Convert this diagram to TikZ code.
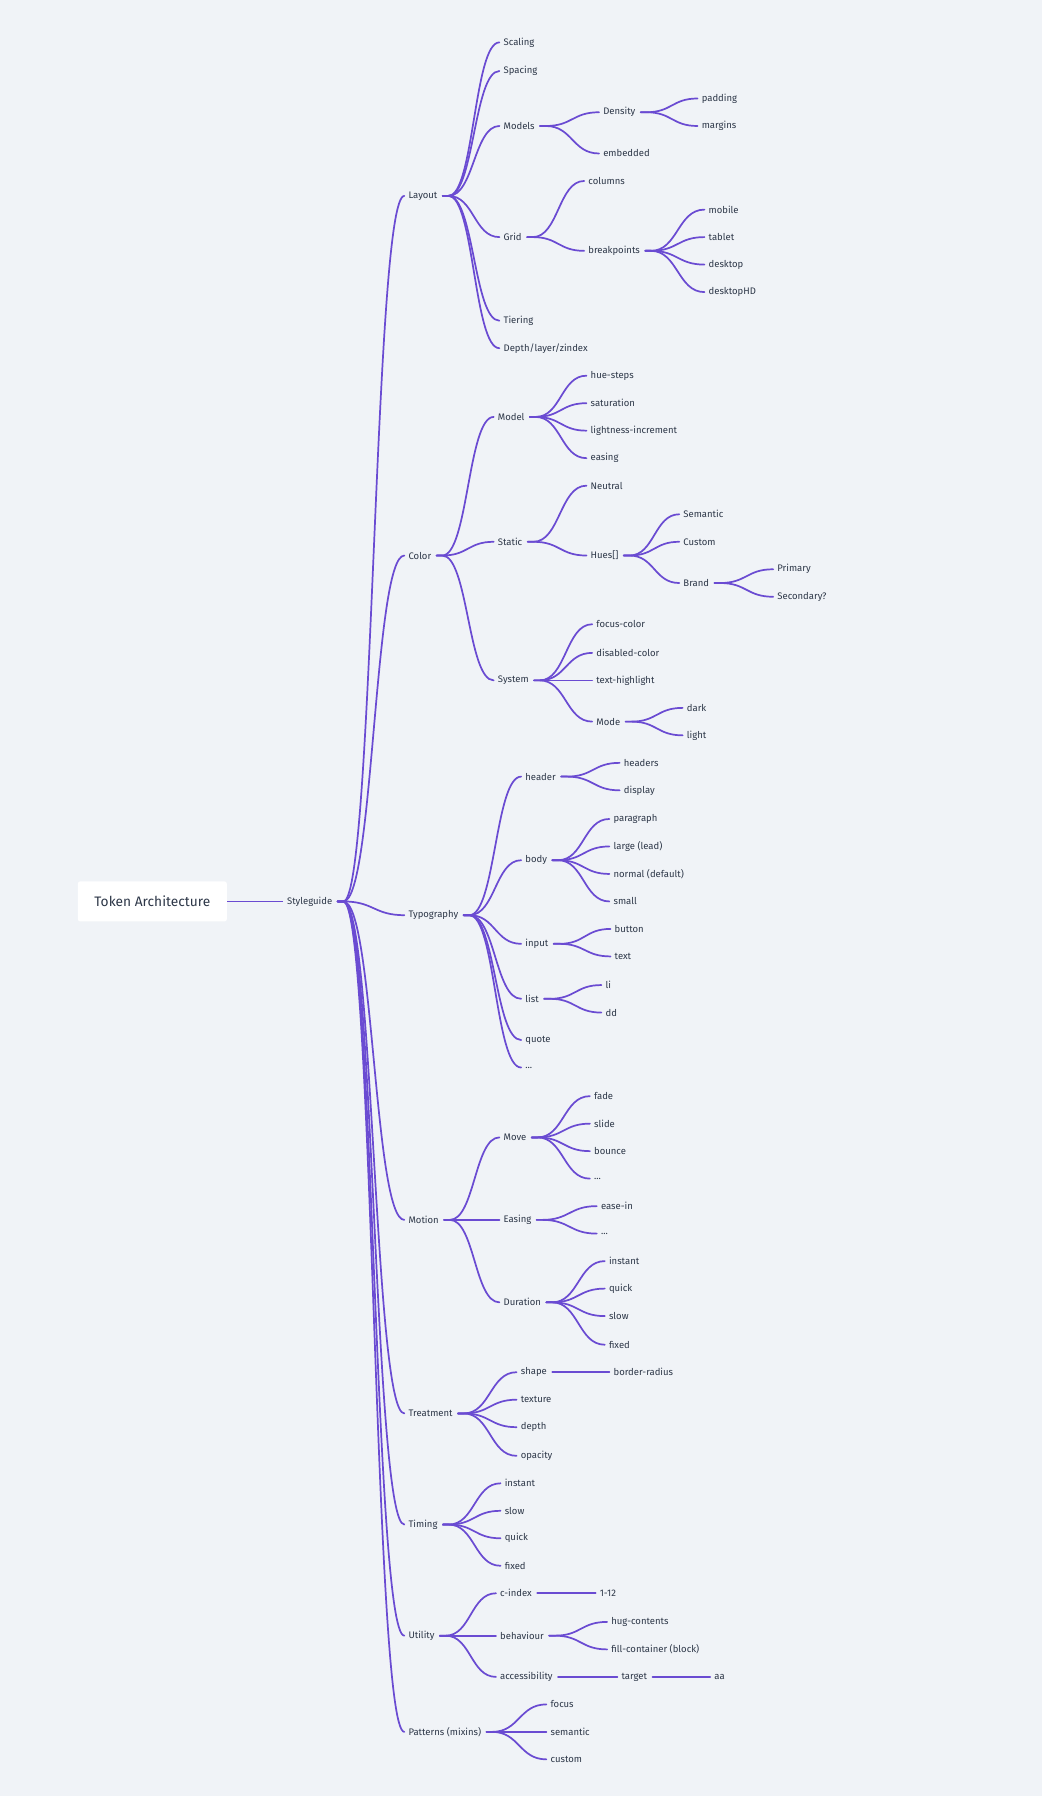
\documentclass[tikz,border=0pt]{standalone}
\usepackage{fontspec}
\setmainfont{Fira Sans}
\usetikzlibrary{calc}
\begin{document}
\begin{tikzpicture}[x=1pt,y=-1pt,
  lbl/.style={anchor=west,inner sep=1.5pt,font=\fontsize{8.3}{10}\selectfont,text=txt},
  edge/.style={line width=1.5pt,draw=ln}]
\definecolor{bg}{HTML}{F0F3F7}
\definecolor{ln}{HTML}{6A4BD2}
\definecolor{txt}{HTML}{2D3748}
\fill[bg] (0,0) rectangle (910,1568);
\useasboundingbox (0,0) rectangle (910,1568);
\node[fill=white,rounded corners=2pt,minimum width=130pt,minimum height=35pt,font=\fontsize{12}{14}\selectfont,text=txt] (root) at (133,787) {Token Architecture};
\def\N#1#2#3#4{\node[lbl] (#1) at (#2,#3) {#4};}
\N{sg}{249}{787}{Styleguide}
\N{lay}{355}{171}{Layout}\N{col}{355}{485}{Color}\N{typ}{355}{799}{Typography}\N{mot}{355}{1065}{Motion}
\N{tre}{355}{1234}{Treatment}\N{tim}{355}{1331}{Timing}\N{uti}{355}{1428}{Utility}\N{pat}{355}{1512}{Patterns (mixins)}
\N{sca}{438}{37}{Scaling}\N{spa}{438}{62}{Spacing}\N{mod}{438}{110}{Models}\N{gri}{438}{207}{Grid}\N{tie}{438}{280}{Tiering}\N{dep}{438}{304}{Depth/layer/zindex}
\N{den}{525}{98}{Density}\N{emb}{525}{134}{embedded}\N{pad}{611}{86}{padding}\N{mar}{611}{110}{margins}
\N{colu}{512}{158}{columns}\N{bre}{512}{219}{breakpoints}
\N{mob}{617}{183}{mobile}\N{tab}{617}{207}{tablet}\N{desk}{617}{231}{desktop}\N{dhd}{617}{255}{desktopHD}
\N{cmod}{433}{364}{Model}\N{sta}{433}{473}{Static}\N{sys}{433}{594}{System}
\N{hue}{514}{328}{hue-steps}\N{sat}{514}{352}{saturation}\N{lig}{514}{376}{lightness-increment}\N{eas}{514}{400}{easing}
\N{neu}{514}{424}{Neutral}\N{hues}{514}{485}{Hues[]}
\N{sem}{595}{449}{Semantic}\N{cus}{595}{473}{Custom}\N{bra}{595}{509}{Brand}\N{pri}{677}{497}{Primary}\N{sec}{677}{521}{Secondary?}
\N{foc}{519}{545}{focus-color}\N{dis}{519}{570}{disabled-color}\N{tex}{519}{594}{text-highlight}\N{mode}{519}{630}{Mode}
\N{dar}{598}{618}{dark}\N{lit}{598}{642}{light}
\N{hea}{457}{678}{header}\N{bod}{457}{751}{body}\N{inp}{457}{824}{input}\N{lis}{457}{872}{list}\N{quo}{457}{908}{quote}\N{tdot}{457}{932}{...}
\N{hds}{543}{666}{headers}\N{dsp}{543}{690}{display}
\N{par}{534}{715}{paragraph}\N{lar}{534}{739}{large (lead)}\N{nor}{534}{763}{normal (default)}\N{sma}{534}{787}{small}
\N{but}{535}{811}{button}\N{itx}{535}{835}{text}\N{li}{527}{860}{li}\N{dd}{527}{884}{dd}
\N{mov}{438}{993}{Move}\N{meas}{438}{1065}{Easing}\N{dur}{438}{1137}{Duration}
\N{fad}{517}{957}{fade}\N{sli}{517}{981}{slide}\N{bou}{517}{1005}{bounce}\N{mdot}{517}{1029}{...}
\N{ein}{523}{1053}{ease-in}\N{edot}{523}{1077}{...}
\N{din}{530}{1101}{instant}\N{dqu}{530}{1125}{quick}\N{dsl}{530}{1149}{slow}\N{dfi}{530}{1174}{fixed}
\N{shp}{453}{1198}{shape}\N{txr}{453}{1222}{texture}\N{tdp}{453}{1246}{depth}\N{opa}{453}{1271}{opacity}\N{brd}{534}{1198}{border-radius}
\N{tin}{439}{1295}{instant}\N{tsl}{439}{1319}{slow}\N{tqu}{439}{1343}{quick}\N{tfi}{439}{1367}{fixed}
\N{cin}{435}{1391}{c-index}\N{beh}{435}{1428}{behaviour}\N{acc}{435}{1464}{accessibility}
\N{one}{522}{1391}{1-12}\N{hug}{532}{1416}{hug-contents}\N{fil}{532}{1440}{fill-container (block)}
\N{tar}{541}{1464}{target}\N{aa}{622}{1464}{aa}
\N{pfo}{479}{1488}{focus}\N{pse}{479}{1512}{semantic}\N{pcu}{479}{1536}{custom}
\def\E#1#2{\foreach \c in {#2} \draw[edge,line cap=round] let \p1=([xshift=8pt]#1.east), \p2=([xshift=-2pt]\c.west), \n1={(\x2-\x1)*0.5} in ([xshift=3pt]#1.east) -- (\p1) .. controls (\x1+\n1,\y1) and (\x2-\n1,\y2) .. (\p2);}
\draw[edge] (root.east) -- ([xshift=-2pt]sg.west);
\E{sg}{lay,col,typ,mot,tre,tim,uti,pat}
\E{lay}{sca,spa,mod,gri,tie,dep}
\E{mod}{den,emb}\E{den}{pad,mar}\E{gri}{colu,bre}\E{bre}{mob,tab,desk,dhd}
\E{col}{cmod,sta,sys}\E{cmod}{hue,sat,lig,eas}\E{sta}{neu,hues}\E{hues}{sem,cus,bra}\E{bra}{pri,sec}
\E{sys}{foc,dis,tex,mode}\E{mode}{dar,lit}
\E{typ}{hea,bod,inp,lis,quo,tdot}\E{hea}{hds,dsp}\E{bod}{par,lar,nor,sma}\E{inp}{but,itx}\E{lis}{li,dd}
\E{mot}{mov,meas,dur}\E{mov}{fad,sli,bou,mdot}\E{meas}{ein,edot}\E{dur}{din,dqu,dsl,dfi}
\E{tre}{shp,txr,tdp,opa}\E{shp}{brd}\E{tim}{tin,tsl,tqu,tfi}
\E{uti}{cin,beh,acc}\E{cin}{one}\E{beh}{hug,fil}\E{acc}{tar}\E{tar}{aa}
\E{pat}{pfo,pse,pcu}
\end{tikzpicture}
\end{document}
